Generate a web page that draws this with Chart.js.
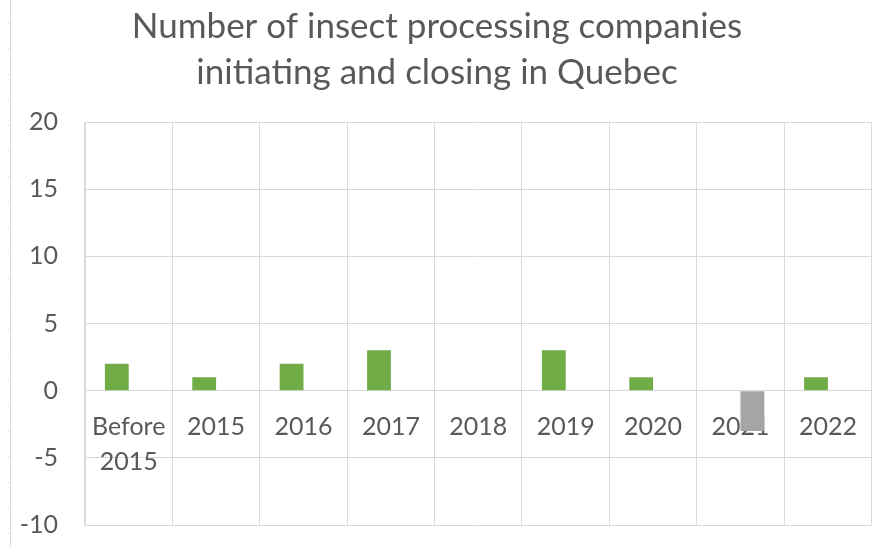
<!DOCTYPE html>
<html><head><meta charset="utf-8">
<script src="https://cdn.jsdelivr.net/npm/chart.js@4/dist/chart.umd.min.js"></script>
<style>
html,body{margin:0;padding:0;background:#fff;}
#wrap{position:relative;width:876px;height:546px;}
#edge{position:absolute;left:10px;top:0;width:1px;height:546px;background:#d9d9d9;}
#marks{position:absolute;left:8px;top:0;width:3px;height:546px;
  background-image:linear-gradient(to bottom,#e4e4e4 0,#e4e4e4 1px,transparent 1px,transparent 100%);
  background-size:3px 25.5px;background-position:0 23px;}
canvas{position:absolute;left:0;top:0;}
</style></head>
<body>
<div id="wrap"><div id="marks"></div><div id="edge"></div><canvas id="c" width="876" height="546"></canvas></div>
<script>
const categories = [["Before","2015"],"2015","2016","2017","2018","2019","2020","2021","2022"];
const initiating = [2,1,2,3,0,3,1,0,1];
const closing = [0,0,0,0,0,0,0,-3,0];
const yTicks = {min:-10,max:20,step:5};
const titleLines = ["Number of insect processing companies","initiating and closing in Quebec"];

new Chart(document.getElementById('c'), {
  type:'bar',
  data:{labels:categories,datasets:[
    {label:'Initiating',data:initiating,backgroundColor:'#70ad47',categoryPercentage:0.545,barPercentage:1},
    {label:'Closing',data:closing,backgroundColor:'#a5a5a5',categoryPercentage:0.545,barPercentage:1}
  ]},
  options:{
    responsive:false,animation:false,
    layout:{padding:{left:0,right:2,top:0,bottom:0}},
    plugins:{
      legend:{display:false},tooltip:{enabled:false},
      title:{display:true,text:titleLines,color:'#595959',font:{family:'Lato',size:35,weight:'normal',lineHeight:1.3},padding:{top:4,bottom:27}}
    },
    scales:{
      x:{position:{y:0},z:1,grid:{color:'#d9d9d9',drawTicks:false,offset:true},border:{color:'#d9d9d9'},
         ticks:{color:'#595959',font:{family:'Lato',size:25,lineHeight:1.4},padding:19,maxRotation:0,autoSkip:false}},
      y:{min:yTicks.min,max:yTicks.max,grid:{color:'#d9d9d9',drawTicks:false},border:{color:'#d9d9d9'},
         afterFit:(s)=>{s.width=85;s.paddingBottom=21;s.paddingTop=0;},
         ticks:{stepSize:yTicks.step,color:'#595959',font:{family:'Lato',size:25},padding:27}}
    }
  }
});
</script>
</body></html>
